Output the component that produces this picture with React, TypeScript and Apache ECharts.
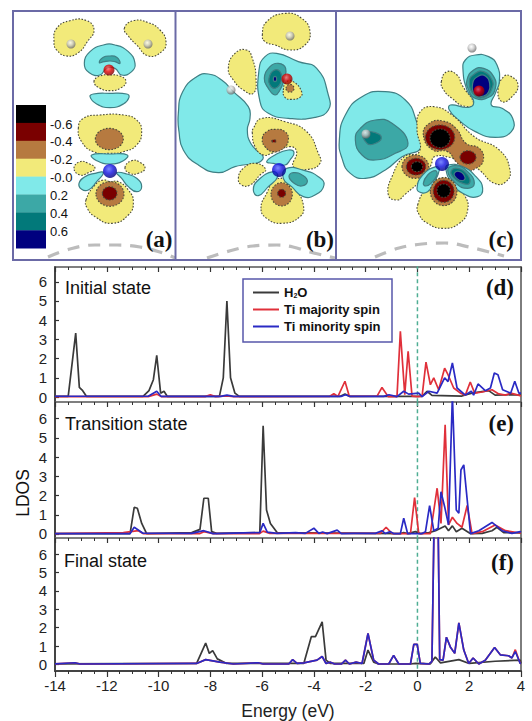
import React, { useEffect, useRef } from "react";
import * as echarts from "echarts";

type XY = [number, number];
const SANS = "'Liberation Sans', Arial, sans-serif";
const SERIF = "'Liberation Serif', 'Times New Roman', serif";

// ---------- LDOS curves: [energy eV, LDOS] ----------
const dH2O: XY[] = [[-14,.03],[-13.49,.03],[-13.2,3.33],[-13.06,.5],[-12.93,.33],[-12.78,.03],[-10.6,.03],[-10.37,.33],[-10.2,.9],[-10.07,2.17],[-9.92,.2],[-9.79,.3],[-9.66,.03],[-7.65,.03],[-7.5,1],[-7.36,5],[-7.22,1],[-7.05,.2],[-6.88,.03],[-3,.03],[-2.8,.15],[-2.6,.03],[.18,.03],[.37,.3],[.56,.08],[1.72,.05],[2.1,.2],[2.75,.33],[3,.1],[3.65,.12],[4,.1]];
const dUp: XY[] = [[-14,.02],[-10.4,.02],[-10.07,.15],[-9.9,.02],[-8.2,.02],[-8,.12],[-7.8,.02],[-7.36,.06],[-7.1,.02],[-3.4,.03],[-3.23,.17],[-3.07,.03],[-2.8,.82],[-2.63,.03],[-1.56,.05],[-1.37,.5],[-1.13,.02],[-.79,.02],[-.66,3.42],[-.49,.12],[-.36,2.38],[-.21,.05],[0,.02],[.18,.05],[.33,1.82],[.5,.64],[.63,1],[.82,.38],[1.05,1.5],[1.18,1.16],[1.4,.47],[1.66,.2],[1.85,.1],[2.04,.78],[2.21,.2],[2.5,.26],[2.88,.38],[3.14,.16],[3.4,.1],[3.6,.2],[3.9,.1],[4,.05]];
const dDown: XY[] = [[-14,.04],[-10.4,.04],[-10.07,.3],[-9.9,.03],[-7.6,.03],[-7.36,.1],[-7.1,.03],[-2.95,.03],[-2.78,.12],[-2.6,.03],[-1.3,.03],[-1.1,.12],[-.79,.02],[-.53,.3],[-.34,.15],[.05,.2],[.18,.02],[.44,.3],[.76,.2],[1.05,1],[1.18,.8],[1.35,1.77],[1.53,.47],[1.85,.1],[2.08,.3],[2.17,.1],[2.34,.68],[2.62,.33],[2.82,.47],[2.97,1.25],[3.11,1.16],[3.29,.38],[3.6,.2],[3.76,.82],[3.92,.2],[4,.2]];

const eH2O: XY[] = [[-14,.02],[-11.1,.02],[-10.94,1.39],[-10.82,1.34],[-10.65,.55],[-10.46,.02],[-8.72,.07],[-8.4,.24],[-8.25,1.86],[-8.08,1.86],[-7.95,.12],[-7.76,.03],[-6.09,.07],[-5.96,5.63],[-5.83,1.25],[-5.68,.55],[-5.42,.07],[-.66,.02],[-.53,.07],[-.38,.02],[-.08,.12],[.11,.02],[.44,.07],[.7,.17],[1.07,.42],[1.2,.17],[1.35,.42],[1.5,.12],[1.72,.3],[2.04,.02],[2.5,.03],[2.88,.17],[3.07,.35],[3.33,.07],[4,.05]];
const eUp: XY[] = [[-14,.02],[-11.36,.07],[-10.78,.17],[-10.6,.02],[-8.4,.02],[-8.25,.12],[-7.89,.02],[-6.1,.02],[-5.96,.15],[-5.7,.03],[-1.43,.03],[-1.21,.35],[-.98,.02],[-.27,.02],[-.11,1.89],[.05,.02],[.5,.02],[.76,2.38],[.91,.55],[1.07,5.68],[1.2,.47],[1.35,.87],[1.53,.55],[1.72,.35],[1.92,1.48],[2.11,.02],[2.5,.12],[3,.47],[3.4,.17],[3.97,.05],[4,.05]];
const eDown: XY[] = [[-14,.02],[-11.1,.02],[-10.94,.35],[-10.6,.04],[-8.72,.03],[-8.25,.17],[-7.89,.02],[-6.09,.07],[-5.96,.55],[-5.8,.1],[-5.42,.03],[-4.71,.07],[-4.33,.03],[-4,.3],[-3.81,.03],[-3.66,.1],[-3.49,.02],[-3.1,.2],[-2.94,.02],[-2.46,.03],[-1.62,.03],[-1.37,.17],[-1.24,.02],[-1.05,.12],[-.92,.02],[-.66,.02],[-.53,.82],[-.38,.02],[.18,.02],[.31,.12],[.47,1.48],[.63,.17],[.8,.3],[.91,2.2],[1.05,1.42],[1.2,.47],[1.35,7.2],[1.5,1.25],[1.6,1.08],[1.68,3.33],[1.79,3.6],[2.05,.02],[2.37,.17],[2.88,.6],[3.27,.17],[3.65,.03],[3.97,.12],[4,.1]];

const fH2O: XY[] = [[-14,.03],[-8.53,.05],[-8.18,1.16],[-8.04,.6],[-7.91,.75],[-7.73,.3],[-7.37,.05],[-4.39,.05],[-4.1,1.51],[-3.94,1.51],[-3.68,2.31],[-3.53,.23],[-3.36,.05],[-2.07,.05],[-1.91,.78],[-1.69,.12],[-1.5,.02],[-.27,.02],[-.08,.05],[.5,.03],[.69,.4],[.89,.08],[1.6,.26],[2,.05],[3,.17],[3.97,.23],[4,.05]];
const fDown: XY[] = [[-14,.03],[-13.23,.09],[-13.03,.02],[-8.53,.05],[-8.18,.26],[-7.63,.12],[-7.11,.02],[-6.15,.09],[-5.96,.02],[-4.97,.02],[-4.82,.26],[-4.65,.05],[-4.39,.08],[-3.88,.23],[-3.68,.43],[-3.53,.05],[-3.36,.12],[-3.2,.02],[-2.94,.02],[-2.78,.23],[-2.63,.02],[-2.37,.12],[-2.14,.05],[-1.91,1.68],[-1.69,.23],[-1.5,.02],[-1.11,.02],[-.92,.49],[-.72,.02],[-.27,.02],[-.14,1.09],[-.01,1.09],[.11,.05],[.44,.02],[.56,.17],[.64,7.5],[.8,7.5],[.86,.26],[.99,.23],[1.12,1.48],[1.27,.95],[1.44,.6],[1.6,2.26],[1.79,.78],[1.98,.05],[2.15,.35],[2.37,.02],[2.62,.23],[2.98,.92],[3.2,.52],[3.52,.47],[3.65,.35],[3.78,.7],[3.97,.05],[4,.05]];
const fUp: XY[] = [[-14,.03],[-13.23,.09],[-13.03,.02],[-8.53,.05],[-8.18,.26],[-7.63,.12],[-7.11,.02],[-6.15,.09],[-5.96,.02],[-4.97,.02],[-4.82,.26],[-4.65,.05],[-4.39,.08],[-3.88,.23],[-3.68,.43],[-3.53,.05],[-3.36,.12],[-3.2,.02],[-2.94,.02],[-2.78,.23],[-2.63,.02],[-2.37,.12],[-2.14,.05],[-1.91,1.68],[-1.69,.23],[-1.5,.02],[-1.11,.02],[-.92,.49],[-.72,.02],[-.27,.02],[-.14,1.09],[-.01,1.09],[.11,.05],[.44,.02],[.56,.17],[.64,7.5],[.8,7.5],[.86,.26],[.99,.23],[1.12,1.48],[1.27,.95],[1.44,.6],[1.6,2.26],[1.79,.78],[1.98,.05],[2.15,.35],[2.37,.02],[2.62,.23],[2.98,.92],[3.2,.52],[3.52,.47],[3.65,.35],[3.78,.8],[3.97,.05],[4,.05]];

const seriesNames = ["H2O", "Ti majority spin", "Ti minority spin"];
const stateLabels = ["Initial state", "Transition state", "Final state"];
const panelLetters = ["(a)", "(b)", "(c)", "(d)", "(e)", "(f)"];
const barLabels = ["-0.6", "-0.4", "-0.2", "-0.0", "0.2", "0.4", "0.6"];
const barLevels = ["k", "r", "b", "y", "c", "t", "d", "n"];
const yTicks = [0, 1, 2, 3, 4, 5, 6];
const fermi: XY[] = [[0, -1], [0, 8]];

// ---------- contour maps: level + outline, traced at 3x from each crop origin ----------
type Shape = [string, number[]];
const mapA: Shape[] = [
  ["y", [162,125,170,85,210,62,260,62,282,90,262,125,235,158,200,168,170,150]],
  ["y", [373,85,400,62,445,68,480,90,498,125,485,155,445,168,410,135,385,108]],
  ["c", [253,190,270,155,310,135,345,135,385,155,405,190,395,215,365,225,345,205,320,205,300,225,268,218]],
  ["t", [298,188,310,172,330,168,350,172,360,190,345,185,330,183,312,185]],
  ["y", [282,245,300,228,330,225,360,228,378,245,360,265,330,272,300,265]],
  ["c", [270,290,280,282,330,280,380,282,387,292,370,312,330,323,290,312]],
  ["y", [235,385,250,355,300,345,370,345,410,360,425,395,410,435,370,455,330,460,280,455,245,425]],
  ["b", [328,417,42,32]],
  ["c", [275,465,330,462,382,465,370,482,330,492,290,482]],
  ["y", [222,505,240,485,265,490,285,505,265,518,240,525]],
  ["y", [375,503,395,482,420,487,435,505,415,520,390,520]],
  ["y", [258,600,285,555,310,540,330,545,355,545,385,570,400,605,385,645,335,670,285,650,262,625]],
  ["c", [237,550,255,530,285,520,310,518,290,545,265,570,245,568]],
  ["c", [350,518,380,522,410,535,425,560,410,575,385,560,365,535]],
  ["b", [330,582,42,37]],
  ["r", [329,580,22,20]],
];
const mapBTop: Shape[] = [
  ["y", [262,75,275,35,330,10,380,25,405,65,390,105,345,120,300,105,270,95]],
  ["y", [160,175,180,130,215,120,232,145,243,205,235,250,205,240,175,210]],
  ["c", [252,180,270,140,305,130,370,155,425,175,460,255,460,300,420,322,340,325,280,310,255,275]],
  ["t", [268,205,285,170,310,160,332,175,325,215,315,240,300,255,280,235]],
  ["d", [282,205,295,182,315,185,318,215,300,235,285,225]],
  ["n", [300,207,5,8]],
  ["y", [325,240,335,215,355,215,380,245,375,262,350,268,330,262]],
  ["b", [345,235,12,12]],
];
const mapBWhole: Shape[] = [
  ["c", [535,340,548,275,590,230,625,222,665,240,700,275,745,320,750,355,742,390,752,430,788,478,705,500,655,518,595,495,550,450,537,395]],
];
const mapBLow: Shape[] = [
  ["y", [232,10,235,-5,260,-35,330,-25,395,5,430,70,435,100,400,118,355,110,365,65,345,50,290,70,265,75,240,50]],
  ["b", [262,25,275,5,300,-2,330,5,340,30,325,55,295,65,270,50]],
  ["r", [297,33,7,4]],
  ["c", [275,95,300,75,340,60,357,68,345,90,330,105,295,100]],
  ["y", [190,145,205,115,240,100,272,118,255,135,225,165,200,165]],
  ["y", [258,235,275,190,300,150,335,150,360,175,385,225,375,260,320,280,275,265]],
  ["c", [235,180,250,150,295,125,308,140,280,170,250,197]],
  ["c", [325,145,335,115,390,122,430,140,447,165,420,195,385,200,350,170]],
  ["t", [342,140,355,128,385,137,397,155,380,168,358,160]],
  ["b", [320,193,32,35]],
  ["r", [320,190,12,12]],
];
const mapCTop: Shape[] = [
  ["y", [538,245,555,215,585,225,600,255,635,312,605,318,570,295,545,270]],
  ["y", [708,270,725,230,745,228,768,255,750,290,720,305]],
  ["c", [603,210,610,180,640,165,680,170,705,195,712,245,700,280,688,315,720,325,752,355,748,395,700,412,640,395,590,360,562,330,565,315,620,322,635,305,615,270]],
  ["t", [615,240,635,210,665,205,695,230,700,265,680,292,640,295,620,270]],
  ["d", [622,245,640,220,665,215,690,240,690,265,670,290,640,288]],
  ["n", [632,250,650,228,670,228,683,250,680,275,665,288,640,285]],
  ["c", [232,420,250,345,300,290,370,275,430,300,462,360,478,440,420,470,370,510,310,535,265,520,240,475]],
  ["t", [280,420,295,385,340,360,390,370,438,430,400,460,340,480,300,465]],
  ["d", [305,400,340,398,358,415,335,432,315,430]],
];
const mapCLow: Shape[] = [
  ["y", [157,225,170,165,205,110,250,95,243,25,253,-25,293,-40,348,-15,415,50,490,90,522,150,510,185,475,190,430,150,400,130,340,112,295,110,285,135,260,175,205,225,185,240]],
  ["b", [262,45,280,10,320,3,360,25,390,70,430,85,442,120,420,145,390,150,360,125,335,95,290,90]],
  ["r", [312,52,44,37]],
  ["k", [312,55,30,28]],
  ["r", [396,112,24,20]],
  ["b", [238,140,40,35]],
  ["r", [240,140,29,25]],
  ["k", [243,140,17,15]],
  ["y", [245,255,275,200,310,175,345,180,385,225,395,270,370,310,320,325,275,310,250,285]],
  ["c", [243,205,260,165,300,140,310,150,290,195,275,215,255,218]],
  ["c", [330,150,335,135,380,140,420,170,440,205,425,230,380,220,345,185]],
  ["t", [262,190,275,165,298,152,303,165,285,190,270,198]],
  ["t", [335,150,360,137,395,155,415,190,395,205,360,190]],
  ["d", [345,155,365,145,395,165,400,190,380,190,355,175]],
  ["n", [355,160,372,155,387,172,380,182,362,175]],
  ["b", [323,215,40,42]],
  ["r", [323,214,31,33]],
  ["k", [323,212,20,20]],
];
const atoms: [number, number, string][] = [
  [71,44,"h"],[148,44,"h"],[109,70,"o"],[110,171,"ti"],
  [231,90,"h"],[290,36,"h"],[287,79,"o"],[279,170,"ti"],
  [472,48,"h"],[366,134,"h"],[479,91,"o"],[442,164,"ti"],
];
const arcs: XY[][] = [
  [[48,257],[70,249],[95,245],[117,245],[140,247],[163,253],[175,258]],
  [[207,258],[233,250],[253,246],[277,245],[293,247],[310,252],[335,258]],
  [[375,257],[399,248],[422,244],[445,243],[469,247],[504,256]],
];

const levelColor: Record<string, string> = {
  k: "#000000", r: "#7a0000", b: "#b67a40", y: "#f2ea7a",
  c: "#80e9e9", t: "#3ca8a6", d: "#02797a", n: "#00007f",
};
const negative = "kryb";

function place(list: Shape[], ox: number, oy: number) {
  return list.map(([lv, p]) => ({
    lv,
    p: p.map((v, i) => (i < 2 || p.length > 4 ? (i % 2 === 0 ? ox + v / 3 : oy + v / 3) : v / 3)),
  }));
}
const shapes = [
  ...place(mapA, 0, 0),
  ...place(mapBWhole, 0, 0),
  ...place(mapBLow, 175, 130),
  ...place(mapBTop, 175, 10),
  ...place(mapCTop, 262, 0),
  ...place(mapCLow, 336, 120),
];
const BAR = { x: 16, y: 105, w: 30, h: 17.9 };

const atomStyle: Record<string, { size: number; stops: string[] }> = {
  h: { size: 9, stops: ["#ffffff", "#c8c8c8", "#6f6f6f"] },
  o: { size: 11, stops: ["#ff6a6a", "#e00000", "#800000"] },
  ti: { size: 14, stops: ["#5a6aff", "#1010e0", "#000080"] },
};

const GRID_X = { left: 55, right: 11 };
const grids = [
  { top: 267, height: 135, min: -0.26, max: 6.77 },
  { top: 402, height: 136, min: -0.21, max: 6.87 },
  { top: 538, height: 139, min: -0.36, max: 6.88 },
];
const curves = [[dH2O, dUp, dDown], [eH2O, eUp, eDown], [fH2O, fUp, fDown]];
const lineColors = ["#3a3a3a", "#e0303a", "#2a2ac4"];

function App() {
  const ref = useRef<HTMLDivElement>(null);
  useEffect(() => {
    const chart = echarts.init(ref.current!, undefined, { renderer: "svg" });
    const xAxis: any[] = [];
    const yAxis: any[] = [];
    const series: any[] = [];
    grids.forEach((g, i) => {
      const base = { type: "value", min: -14, max: 4, interval: 2, gridIndex: i, splitLine: { show: false } };
      xAxis.push({
        ...base,
        position: "bottom",
        axisLine: { show: i === 2, onZero: false, lineStyle: { color: "#444", width: 2 } },
        axisTick: { show: i === 2, length: 6, inside: false, lineStyle: { color: "#333", width: 1.2 } },
        minorTick: { show: i === 2, splitNumber: 4, length: 3, lineStyle: { color: "#333" } },
        axisLabel: {
          show: i === 2, color: "#222", fontFamily: SANS, fontSize: 15, margin: 7,
          showMinLabel: true, showMaxLabel: true, hideOverlap: false,
        },
        name: i === 2 ? "Energy (eV)" : "",
        nameLocation: "middle",
        nameGap: 31,
        nameTextStyle: { color: "#222", fontFamily: SANS, fontSize: 17.5 },
      });
      xAxis.push({
        ...base,
        position: "top",
        axisLine: { show: true, onZero: false, lineStyle: { color: "#555", width: 1.5 } },
        axisTick: { show: true, inside: true, length: 5, lineStyle: { color: "#333", width: 1.2 } },
        minorTick: { show: true, splitNumber: 4, length: 3, lineStyle: { color: "#333" } },
        axisLabel: { show: false },
      });
      yAxis.push({
        type: "value", gridIndex: i, min: g.min, max: g.max, position: "left",
        splitLine: { show: false },
        axisLine: { show: true, onZero: false, lineStyle: { color: "#444", width: 2 } },
        axisTick: { show: true, inside: true, length: 4, customValues: yTicks, lineStyle: { color: "#333", width: 1.2 } },
        axisLabel: { show: true, customValues: yTicks, color: "#222", fontFamily: SANS, fontSize: 15, margin: 8 },
      });
      yAxis.push({
        type: "value", gridIndex: i, min: g.min, max: g.max, position: "right",
        splitLine: { show: false },
        axisLine: { show: true, onZero: false, lineStyle: { color: "#7d7d7d", width: 2 } },
        axisTick: { show: false },
        axisLabel: { show: false },
      });
      const xi = i * 2;
      const yi = i * 2;
      curves[i].forEach((d, k) => {
        series.push({
          type: "line", name: seriesNames[k], data: d, xAxisIndex: xi, yAxisIndex: yi,
          showSymbol: false, symbol: "none", silent: true,
          lineStyle: { color: lineColors[k], width: 1.7 }, itemStyle: { color: lineColors[k] },
          z: 3 + k,
        });
      });
      series.push({
        type: "line", data: fermi, xAxisIndex: xi, yAxisIndex: yi, symbol: "none", silent: true,
        lineStyle: { color: "#4fae94", width: 1.5, type: [4, 3] }, z: 2,
      });
    });
    // page-space axes for the contour maps
    const mapX = xAxis.length;
    const mapY = yAxis.length;
    const mapGrid = 3;
    xAxis.push({ type: "value", gridIndex: mapGrid, min: 0, max: 532, show: false });
    yAxis.push({ type: "value", gridIndex: mapGrid, min: 0, max: 721, inverse: true, show: false });
    series.push({
      type: "custom", xAxisIndex: mapX, yAxisIndex: mapY, silent: true, clip: false,
      data: shapes.map((_, i) => [i]), encode: { x: 0 }, z: 2,
      renderItem: (_: any, api: any) => {
        const s = shapes[api.value(0)];
        const neg = negative.includes(s.lv);
        const style = {
          fill: levelColor[s.lv],
          stroke: neg ? "#4a4a3a" : "#3f7f84",
          lineWidth: neg ? 1.1 : 1.2,
          lineDash: neg ? [1.6, 1.6] : undefined,
        };
        if (s.p.length === 4) {
          const [cx, cy] = api.coord([s.p[0], s.p[1]]);
          return { type: "ellipse", shape: { cx, cy, rx: s.p[2], ry: s.p[3] }, style };
        }
        const points: number[][] = [];
        for (let j = 0; j < s.p.length; j += 2) points.push(api.coord([s.p[j], s.p[j + 1]]));
        return { type: "polygon", shape: { points, smooth: 0.5 }, style };
      },
    });
    series.push({
      type: "custom", xAxisIndex: mapX, yAxisIndex: mapY, silent: true, clip: false,
      data: barLevels.map((_, i) => [i]), encode: { x: 0 }, z: 2,
      renderItem: (_: any, api: any) => {
        const i = api.value(0);
        const [x, y] = api.coord([BAR.x, BAR.y + i * BAR.h]);
        return { type: "rect", shape: { x, y, width: BAR.w, height: BAR.h + 0.3 }, style: { fill: levelColor[barLevels[i]] } };
      },
    });
    series.push({
      type: "scatter", xAxisIndex: mapX, yAxisIndex: mapY, silent: true, z: 4,
      data: atoms.map(([x, y, kind]) => ({
        value: [x, y],
        symbolSize: atomStyle[kind].size,
        itemStyle: {
          color: new echarts.graphic.RadialGradient(0.42, 0.36, 0.62, [
            { offset: 0, color: atomStyle[kind].stops[0] },
            { offset: 0.5, color: atomStyle[kind].stops[1] },
            { offset: 1, color: atomStyle[kind].stops[2] },
          ]),
        },
      })),
    });
    arcs.forEach((a) => {
      series.push({
        type: "line", data: a, xAxisIndex: mapX, yAxisIndex: mapY, symbol: "none", smooth: 0.4, silent: true,
        lineStyle: { color: "#bcbcbc", width: 3.2, type: [12, 9] }, z: 2,
      });
    });

    const frame = "#6b6aa6";
    const label = (text: string, x: number, y: number, o: any = {}) => ({
      type: "text", x, y, z: 10,
      style: { text, fill: "#111", fontFamily: SANS, fontSize: 18, textAlign: "left", textVerticalAlign: "middle", ...o },
    });
    const serif = { fontFamily: SERIF, fontWeight: "bold", fontSize: 23, textAlign: "right" };
    const graphic: any[] = [
      { type: "rect", z: 8, shape: { x: 13, y: 11, width: 508, height: 249 }, style: { fill: "none", stroke: frame, lineWidth: 2 } },
      { type: "line", z: 8, shape: { x1: 175.5, y1: 11, x2: 175.5, y2: 260 }, style: { stroke: frame, lineWidth: 2 } },
      { type: "line", z: 8, shape: { x1: 336, y1: 11, x2: 336, y2: 260 }, style: { stroke: frame, lineWidth: 2 } },
      { type: "rect", z: 8, shape: { x: 243, y: 279, width: 149, height: 63 }, style: { fill: "#fff", stroke: "#5757aa", lineWidth: 1.5 } },
      label(stateLabels[0], 65, 288),
      label(stateLabels[1], 65, 424),
      label(stateLabels[2], 64, 561),
      label(panelLetters[0], 172.5, 239, serif),
      label(panelLetters[1], 334, 239, serif),
      label(panelLetters[2], 514, 239, serif),
      label(panelLetters[3], 514, 287, serif),
      label(panelLetters[4], 514, 423, serif),
      label(panelLetters[5], 514, 562, serif),
      { ...label("LDOS", 23, 493, { fontSize: 17.5, textAlign: "center" }), rotation: Math.PI / 2 },
    ];
    barLabels.forEach((t, i) => graphic.push(label(t, 50, 124 + i * 17.9, { fontSize: 13 })));

    chart.setOption({
      animation: false,
      backgroundColor: "#fff",
      grid: [
        ...grids.map((g) => ({ left: GRID_X.left, right: GRID_X.right, top: g.top, height: g.height })),
        { left: 0, top: 0, width: 532, height: 721 },
      ],
      xAxis,
      yAxis,
      series,
      graphic,
      legend: {
        data: seriesNames.map((name) => ({ name, icon: "rect" })),
        orient: "vertical",
        left: 253,
        top: 286,
        padding: 0,
        itemWidth: 26,
        itemHeight: 2,
        itemGap: 4,
        z: 12,
        selectedMode: false,
        textStyle: {
          color: "#111", fontFamily: SANS, fontSize: 13, fontWeight: "bold",
          rich: { sub: { fontSize: 7, fontWeight: "bold", fontFamily: SANS, color: "#111", verticalAlign: "bottom", padding: [6, 0, 0, 0] } },
        },
        formatter: (n: string) => (n === "H2O" ? "H{sub|2}O" : n),
      },
    });
    return () => chart.dispose();
  }, []);
  return <div ref={ref} style={{ position: "fixed", left: 0, top: 0, width: 532, height: 721 }} />;
}

export default App;
